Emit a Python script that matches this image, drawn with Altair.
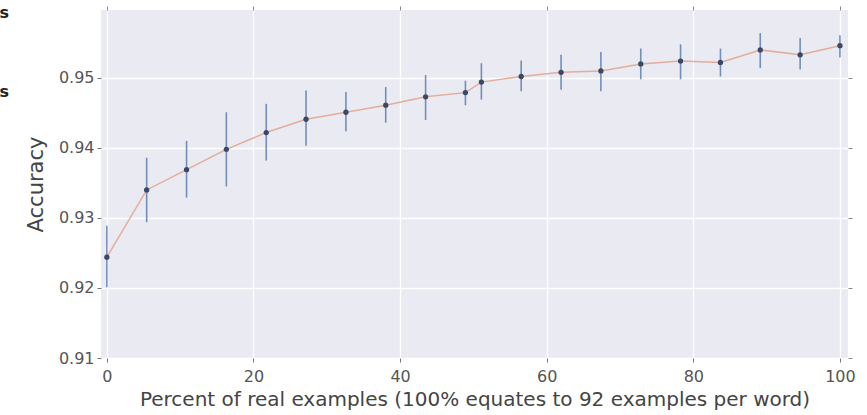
import altair as alt
import pandas as pd

pct = [0.0, 5.43, 10.87, 16.30, 21.74, 27.17, 32.61, 38.04, 43.48, 48.91,
       51.09, 56.52, 61.96, 67.39, 72.83, 78.26, 83.70, 89.13, 94.57, 100.0]
acc = [0.9244, 0.9340, 0.9369, 0.9398, 0.9422, 0.9441, 0.9451, 0.9461, 0.9473, 0.9479,
       0.9494, 0.9502, 0.9508, 0.9510, 0.9520, 0.9524, 0.9522, 0.9540, 0.9533, 0.9546]
lo = [0.9201, 0.9294, 0.9329, 0.9345, 0.9382, 0.9403, 0.9424, 0.9436, 0.9440, 0.9461,
      0.9469, 0.9481, 0.9483, 0.9481, 0.9498, 0.9498, 0.9502, 0.9514, 0.9512, 0.9529]
hi = [0.9289, 0.9386, 0.9410, 0.9451, 0.9463, 0.9482, 0.9480, 0.9487, 0.9504, 0.9496,
      0.9521, 0.9525, 0.9533, 0.9537, 0.9542, 0.9548, 0.9542, 0.9564, 0.9557, 0.9561]

x_ticks = [0, 20, 40, 60, 80, 100]
y_ticks = [0.91, 0.92, 0.93, 0.94, 0.95]

df = pd.DataFrame({"pct": pct, "acc": acc, "lo": lo, "hi": hi})

xs = alt.Scale(domain=[-0.8, 101.1], nice=False, zero=False)
ys = alt.Scale(domain=[0.91, 0.9597], nice=False, zero=False)

font = "DejaVu Sans"
xax = alt.Axis(values=x_ticks, title="Percent of real examples (100% equates to 92 examples per word)",
               grid=True, gridColor="white", gridWidth=1.3, domain=False,
               tickColor="#777", tickSize=4, labelFont=font, labelFontSize=16, labelColor="#555",
               labelPadding=6, titleFont=font, titleFontSize=20, titleFontWeight="normal",
               titleColor="#444", titlePadding=5)
yax = alt.Axis(values=y_ticks, title="Accuracy", format=".2f",
               grid=True, gridColor="white", gridWidth=1.3, domain=False,
               tickColor="#777", tickSize=4, labelFont=font, labelFontSize=16, labelColor="#555",
               labelPadding=3, titleFont=font, titleFontSize=21, titleFontWeight="normal",
               titleColor="#444", titlePadding=12)

xtop = alt.Axis(values=x_ticks, orient="top", labels=False, title=None, grid=False, domain=False,
                tickColor="#888", tickSize=4)
yright = alt.Axis(values=y_ticks, orient="right", labels=False, title=None, grid=False, domain=False,
                  tickColor="#888", tickSize=4)

base = alt.Chart(df)

line = base.mark_line(color="#E2A690", strokeWidth=1.5, opacity=0.9).encode(
    x=alt.X("pct:Q", scale=xs, axis=xax),
    y=alt.Y("acc:Q", scale=ys, axis=yax),
)
bars = base.mark_rule(color="#4C6FA8", strokeWidth=1.6, opacity=0.75).encode(
    x=alt.X("pct:Q", scale=xs, axis=xtop),
    y=alt.Y("lo:Q", scale=ys, axis=yright),
    y2="hi:Q",
)
pts = base.mark_point(filled=True, color="#3A4868", size=28, opacity=1).encode(
    x=alt.X("pct:Q", scale=xs, axis=None),
    y=alt.Y("acc:Q", scale=ys, axis=None),
)

edge_text = pd.DataFrame({"t": ["s", "s"], "yy": [3, 82]})
side = alt.Chart(edge_text).mark_text(align="right", baseline="middle", fontSize=16,
                                       fontWeight="bold", font=font, color="#222").encode(
    text="t:N",
    x=alt.value(-92),
    y=alt.Y("yy:Q", scale=None, axis=None),
)

chart = alt.layer(line, bars, pts, side).resolve_axis(x="independent", y="independent").properties(
    width=747, height=348,
    autosize=alt.AutoSizeParams(type="none"),
    padding={"left": 101, "top": 10, "right": 19, "bottom": 57},
    background="white",
).configure_view(fill="#EAEAF2", stroke=None)

chart.save("out.html", embed_options={"renderer": "svg", "actions": False})
